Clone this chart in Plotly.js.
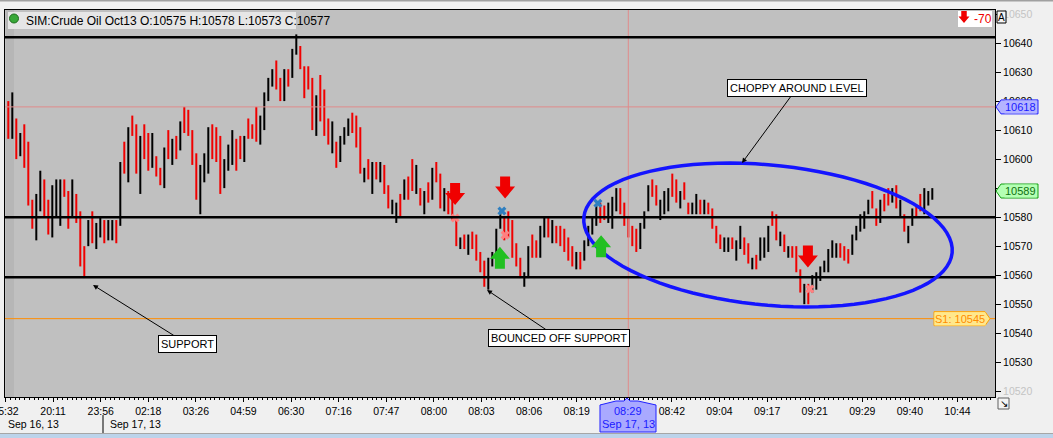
<!DOCTYPE html>
<html>
<head>
<meta charset="utf-8">
<script src="https://cdn.plot.ly/plotly-3.0.1.min.js"></script>
<style>html,body{margin:0;padding:0;background:#f0f0f0;overflow:hidden}</style>
</head>
<body>
<div id="chart" style="width:1053px;height:438px"></div>
<script>
// crude oil tick bars (two source bars merged per entry)
var barHigh = [
  10620,10623,10614,10609,10612,10606,10586,10588,10596,10593,
  10586,10591,10593,10593,10593,10589,10593,10588,10582,10570,
  10579,10582,10578,10580,10579,10579,10579,10579,10599,10606,
  10611,10615,10612,10608,10612,10609,10609,10601,10597,10604,
  10610,10607,10608,10613,10618,10617,10610,10602,10598,10602,
  10611,10612,10611,10608,10600,10605,10610,10607,10608,10608,
  10614,10612,10618,10615,10623,10628,10631,10634,10628,10631,
  10631,10638,10643,10639,10632,10632,10628,10622,10629,10624,
  10614,10613,10606,10608,10611,10614,10616,10615,10611,10597,
  10600,10599,10599,10599,10598,10591,10586,10585,10588,10593,
  10594,10600,10598,10590,10589,10592,10597,10599,10595,10590,
  10589,10588,10579,10573,10574,10574,10575,10574,10568,10565,
  10566,10568,10576,10582,10580,10582,10579,10571,10566,10561,
  10570,10574,10572,10577,10580,10580,10579,10577,10577,10576,
  10573,10570,10568,10568,10572,10577,10580,10584,10585,10584,
  10585,10587,10590,10590,10585,10580,10577,10576,10578,10582,
  10591,10593,10591,10586,10589,10590,10595,10593,10589,10592,
  10585,10585,10588,10586,10586,10585,10583,10577,10574,10573,
  10573,10573,10572,10577,10573,10571,10566,10567,10573,10573,
  10577,10582,10581,10575,10574,10570,10570,10570,10562,10557,
  10557,10560,10561,10563,10565,10569,10572,10571,10571,10570,
  10569,10574,10577,10581,10582,10586,10589,10583,10586,10588,
  10590,10590,10591,10586,10581,10577,10583,10584,10588,10590,
  10589,10590
];
var barLow = [
  10607,10607,10600,10601,10597,10584,10576,10572,10582,10580,
  10574,10573,10580,10577,10587,10576,10580,10578,10563,10559,
  10570,10571,10569,10573,10571,10572,10572,10571,10577,10595,
  10592,10608,10595,10588,10600,10596,10597,10594,10591,10590,
  10600,10598,10600,10603,10609,10608,10598,10586,10581,10592,
  10595,10600,10599,10588,10590,10596,10598,10596,10600,10599,
  10607,10607,10606,10605,10610,10620,10625,10624,10620,10620,
  10625,10628,10636,10631,10621,10624,10610,10608,10613,10608,
  10605,10602,10597,10599,10605,10608,10609,10604,10595,10592,
  10593,10588,10593,10592,10588,10583,10581,10578,10580,10586,
  10586,10589,10588,10584,10581,10585,10586,10592,10583,10582,
  10581,10579,10570,10569,10569,10567,10569,10565,10561,10556,
  10555,10563,10563,10576,10572,10573,10566,10563,10559,10556,
  10559,10566,10566,10566,10573,10573,10571,10571,10570,10568,
  10565,10563,10562,10562,10565,10570,10574,10577,10578,10579,
  10578,10576,10582,10581,10577,10573,10570,10568,10569,10576,
  10582,10587,10584,10579,10581,10582,10587,10585,10583,10586,
  10581,10581,10581,10581,10581,10581,10576,10571,10569,10568,
  10568,10569,10565,10569,10567,10564,10562,10562,10565,10566,
  10568,10577,10572,10570,10568,10566,10566,10561,10554,10550,
  10550,10554,10555,10558,10561,10561,10566,10566,10566,10565,
  10564,10567,10572,10575,10576,10581,10583,10577,10578,10582,
  10584,10585,10583,10580,10575,10571,10577,10580,10582,10581,
  10584,10586
];
// B = up bar (black), R = down bar (red)
var barDir = ("RBRBRRRBBR" + "RBBBRRBRRR" + "BRBBRBBRBR" + "BRRBRRBRRB" + "RBRBRRRRBB" +
              "BRRRBBBRRB" + "RRRBBBBRRB" + "RBBRRRRBRR" + "RBRBBBRRRB" + "RBRBRRBBRB" +
              "RRBRBRBRRB" + "RRRBRBRRRR" + "BBBBRRRRRB" + "BRRBBRBRRR" + "RRBRBBBBRR" +
              "BBBRRRRRBB" + "BRRBBBRRBR" + "RBBRBRRRRB" + "BRBBRRBRBB" + "BRRBRBRRRB" +
              "RBBBBBBBRR" + "RBBBBBRRBR" + "RBRBRBBRRB" + "BB").split('');

var timeLabels = ['15:32','20:11','23:56','02:18','03:26','04:59','06:30','07:16','07:47','08:00','08:03',
                  '08:06','08:19','08:29','08:42','09:04','09:17','09:21','09:29','09:40','10:44'];
var priceTicks = [10520,10530,10540,10550,10560,10570,10580,10590,10600,10610,10620,10630,10640,10650];

// drawn levels and signals
var resistance = 10642, pivot = 10580, support = 10559.3, s1Level = 10545;
var crossPrice = 10618, crossBar = 155, lastPrice = 10589;
var sellBar = [111.7, 124.2, 199.9], sellPrice = [10588, 10590.2, 10566.4];
var buyBar = [122.9, 148.2],         buyPrice = [10566, 10570];
var blueXBar = [123.4, 147.4],       blueXPrice = [10582.1, 10584.8];
var pinkXBar = [111.7, 124.2, 200.4], pinkXPrice = [10579.7, 10573.8, 10555.2];

var FONT = 'Liberation Sans, Arial, sans-serif';
var L = 5, R = 995, T = 10, B = 397;
function px(x) { return (x - L) / (R - L); }
function py(y) { return (B - y) / (B - T); }

var idx = barHigh.map(function (h, i) { return i; });
var openP = barHigh.map(function (h, i) { return barDir[i] === 'B' ? barLow[i] : h; });
var closeP = barHigh.map(function (h, i) { return barDir[i] === 'B' ? h : barLow[i]; });

var bars = {
  type: 'ohlc', x: idx, open: openP, high: barHigh, low: barLow, close: closeP,
  tickwidth: 0, hoverinfo: 'skip',
  increasing: {line: {color: '#000000', width: 2}},
  decreasing: {line: {color: '#f00000', width: 2}}
};
var blueX = {
  type: 'scatter', mode: 'markers', x: blueXBar, y: blueXPrice, hoverinfo: 'skip',
  marker: {symbol: 'x', size: 8, color: '#2f7fc0', line: {width: 0}}
};
var pinkX = {
  type: 'scatter', mode: 'markers', x: pinkXBar, y: pinkXPrice, hoverinfo: 'skip',
  marker: {symbol: 'x', size: 8, color: '#ff8080', line: {width: 0}}
};

var tickStart = -0.7, tickStep = 11.9;
var tickVals = timeLabels.map(function (t, k) { return tickStart + k * tickStep; });
var tickText = timeLabels.map(function (t) { return t === '08:29' ? '' : t; });
var yText = priceTicks.map(function (v) {
  return (v === 10650 || v === 10520) ? '<span style="color:#c4c4c4">' + v + '</span>' : String(v);
});

function blockArrow(xa, ya, dir, color, s, xref) {
  var pts = [[-5,-11],[5,-11],[5,-1],[10,-1],[0,11],[-10,-1],[-5,-1]];
  var d = pts.map(function (q, k) { return (k ? 'L' : 'M') + (q[0]*s) + ',' + (q[1]*dir*s); }).join('') + 'Z';
  return {type: 'path', xref: xref || 'x', yref: xref ? 'paper' : 'y', xsizemode: 'pixel', ysizemode: 'pixel',
          xanchor: xa, yanchor: ya, path: d, fillcolor: color, line: {width: 0}};
}
function poly(pts) {
  return pts.map(function (q, k) { return (k ? 'L' : 'M') + px(q[0]).toFixed(5) + ',' + py(q[1]).toFixed(5); }).join('') + 'Z';
}
function ellipsePath(cx, cy, a, b, deg) {
  var t = deg * Math.PI / 180, pts = [];
  for (var k = 0; k < 90; k++) {
    var u = k / 90 * 2 * Math.PI;
    pts.push([cx + a*Math.cos(u)*Math.cos(t) - b*Math.sin(u)*Math.sin(t),
              cy + a*Math.cos(u)*Math.sin(t) + b*Math.sin(u)*Math.cos(t)]);
  }
  return poly(pts);
}
function priceTag(price, pts, fill, edge) {
  var d = pts.map(function (q, k) { return (k ? 'L' : 'M') + q[0] + ',' + q[1]; }).join('') + 'Z';
  return {type: 'path', xref: 'paper', yref: 'y', xsizemode: 'pixel', ysizemode: 'pixel',
          xanchor: 1, yanchor: price, path: d, fillcolor: fill, line: {color: edge, width: 1}};
}
function hline(y, color, w) {
  return {type: 'line', xref: 'paper', yref: 'y', x0: 0, x1: 1, y0: y, y1: y, line: {color: color, width: w}};
}
function rect(x0, y0, x1, y1, fill, edge, layer) {
  return {type: 'rect', xref: 'paper', yref: 'paper', x0: px(x0), x1: px(x1), y0: py(y1), y1: py(y0),
          fillcolor: fill, line: {color: edge || fill, width: edge ? 1 : 0}, layer: layer || 'above'};
}

var shapes = [
  rect(6, 10, 14, 397, '#b6b6b6', null, 'below'),
  rect(-5, 0, 1060, 1.5, '#a0a0a0', null),
  rect(-5, 433, 1060, 434, '#a6a6a6', null),
  rect(-5, 434, 1060, 440, '#bcd3ea', null),
  hline(crossPrice, '#e08a8a', 1),
  {type: 'line', xref: 'x', yref: 'paper', x0: crossBar, x1: crossBar, y0: 0, y1: 1, line: {color: '#e08a8a', width: 1}},
  hline(resistance, '#000000', 2.5),
  hline(pivot, '#000000', 2.5),
  hline(support, '#000000', 2.5),
  hline(s1Level, '#ff8c00', 1),
  {type: 'path', xref: 'paper', yref: 'paper', path: ellipsePath(768, 235, 185, 70, 5.5),
   line: {color: '#1414ff', width: 3.5}, fillcolor: 'rgba(0,0,0,0)'},
  rect(8, 12, 296, 29, '#e6e6e6', null),
  {type: 'circle', xref: 'paper', yref: 'paper', x0: px(9.5), x1: px(18.5), y0: py(23), y1: py(14),
   fillcolor: '#38a838', line: {color: '#1e6e1e', width: 1}},
  rect(958, 11, 992, 27, '#ffffff', null),
  blockArrow(px(964), py(17), -1, '#f00000', 0.55, 'paper'),
  rect(997, 11, 1006, 23, '#f4f4f4', '#000000'),
  rect(998, 398, 1009, 409, '#f4f4f4', '#606060'),
  priceTag(crossPrice, [[1,0],[6,7],[43,7],[43,-7],[6,-7]], '#b4b4ff', '#2020ff'),
  priceTag(lastPrice, [[1,0],[6,7],[43,7],[43,-7],[6,-7]], '#b4ffb4', '#10a010'),
  priceTag(s1Level, [[-5,0],[-10,7],[-61,7],[-61,-7],[-10,-7]], '#ffe88c', '#ffa000'),
  {type: 'path', xref: 'paper', yref: 'paper',
   path: poly([[600,405],[616,401],[624,401],[627,398],[630,401],[638,401],[656,405],[656,432],[600,432]]),
   fillcolor: '#a9a9ff', line: {color: '#2020ff', width: 1}},
  {type: 'line', xref: 'paper', yref: 'paper', x0: px(103), x1: px(103), y0: py(415), y1: py(433),
   line: {color: '#000000', width: 1}}
];
sellBar.forEach(function (b, k) { shapes.push(blockArrow(b, sellPrice[k], -1, '#f00000', 1)); });
buyBar.forEach(function (b, k) { shapes.push(blockArrow(b, buyPrice[k], 1, '#22c022', 1)); });

function note(x, y, text, opts) {
  var a = {xref: 'paper', yref: 'paper', x: px(x), y: py(y), text: text, showarrow: false,
           xanchor: 'center', yanchor: 'middle', font: {family: FONT, size: 11, color: '#000'}};
  for (var k in opts) a[k] = opts[k];
  return a;
}
function tagText(x, price, text, color, fill) {
  return {xref: 'paper', yref: 'y', x: px(x), y: price, text: text, showarrow: false,
          xanchor: 'center', yanchor: 'middle', bgcolor: fill, borderpad: 0,
          font: {family: FONT, size: 11, color: color}};
}
function callout(tipX, tipY, boxX, boxY, text) {
  return {xref: 'paper', yref: 'paper', x: px(tipX), y: py(tipY), ax: boxX - tipX, ay: boxY - tipY,
          text: text, showarrow: true, arrowhead: 2, arrowsize: 1, arrowwidth: 1, arrowcolor: '#000',
          bgcolor: '#ffffff', bordercolor: '#000000', borderwidth: 1, borderpad: 2,
          font: {family: FONT, size: 11, color: '#000'}};
}

var annotations = [
  note(24, 20.5, 'SIM:Crude Oil Oct13 O:10575 H:10578 L:10573 C:10577', {xanchor: 'left', font: {family: FONT, size: 12, color: '#000'}}),
  note(983, 19, '-70', {font: {family: FONT, size: 12, color: '#f00000'}}),
  note(1001.5, 17.5, 'A', {font: {family: FONT, size: 10, color: '#000'}}),
  note(1003.5, 403.5, '↘', {font: {family: FONT, size: 10, color: '#000'}}),
  tagText(1020.5, crossPrice, String(crossPrice), '#1a1aff', '#b4b4ff'),
  tagText(1020.5, lastPrice, String(lastPrice), '#107010', '#b4ffb4'),
  tagText(960, s1Level, 'S1: ' + s1Level, '#ff8c00', '#ffe88c'),
  note(628, 410.5, '08:29', {font: {family: FONT, size: 11, color: '#1a1aff'}}),
  note(628, 424, 'Sep 17, 13', {font: {family: FONT, size: 11, color: '#1a1aff'}}),
  note(6, 424, 'Sep 16, 13', {xanchor: 'left', font: {family: FONT, size: 10.5, color: '#000'}}),
  note(108, 424, 'Sep 17, 13', {xanchor: 'left', font: {family: FONT, size: 10.5, color: '#000'}}),
  callout(93, 285, 187.5, 344, 'SUPPORT'),
  callout(487, 290, 558.5, 338, 'BOUNCED OFF SUPPORT'),
  callout(742, 163, 797, 88, 'CHOPPY AROUND LEVEL')
];

var layout = {
  width: 1053, height: 438,
  margin: {l: L, r: 1053 - R, t: T, b: 438 - B},
  paper_bgcolor: '#f0f0f0', plot_bgcolor: '#c0c0c0',
  showlegend: false, dragmode: false,
  font: {family: FONT, size: 11, color: '#000'},
  xaxis: {
    range: [(L - 8.3) / 4, (R - 8.3) / 4], rangeslider: {visible: false},
    tickmode: 'array', tickvals: tickVals, ticktext: tickText, ticklabeloverflow: 'allow',
    ticks: 'outside', ticklen: 4, tickcolor: '#000', tickfont: {size: 10.5},
    minor: {tick0: tickStart, dtick: tickStep / 10, ticks: 'outside', ticklen: 2, tickcolor: '#000'},
    showgrid: false, zeroline: false, showline: true, linecolor: '#000', linewidth: 1, mirror: true
  },
  yaxis: {
    side: 'right', range: [10518, 10651.4],
    tickmode: 'array', tickvals: priceTicks, ticktext: yText,
    ticks: 'outside', ticklen: 5, tickcolor: '#000', tickfont: {size: 10.5},
    showgrid: false, zeroline: false, showline: true, linecolor: '#000', linewidth: 1, mirror: true
  },
  shapes: shapes,
  annotations: annotations
};

Plotly.newPlot('chart', [bars, blueX, pinkX], layout, {displayModeBar: false, staticPlot: true});
</script>
</body>
</html>
